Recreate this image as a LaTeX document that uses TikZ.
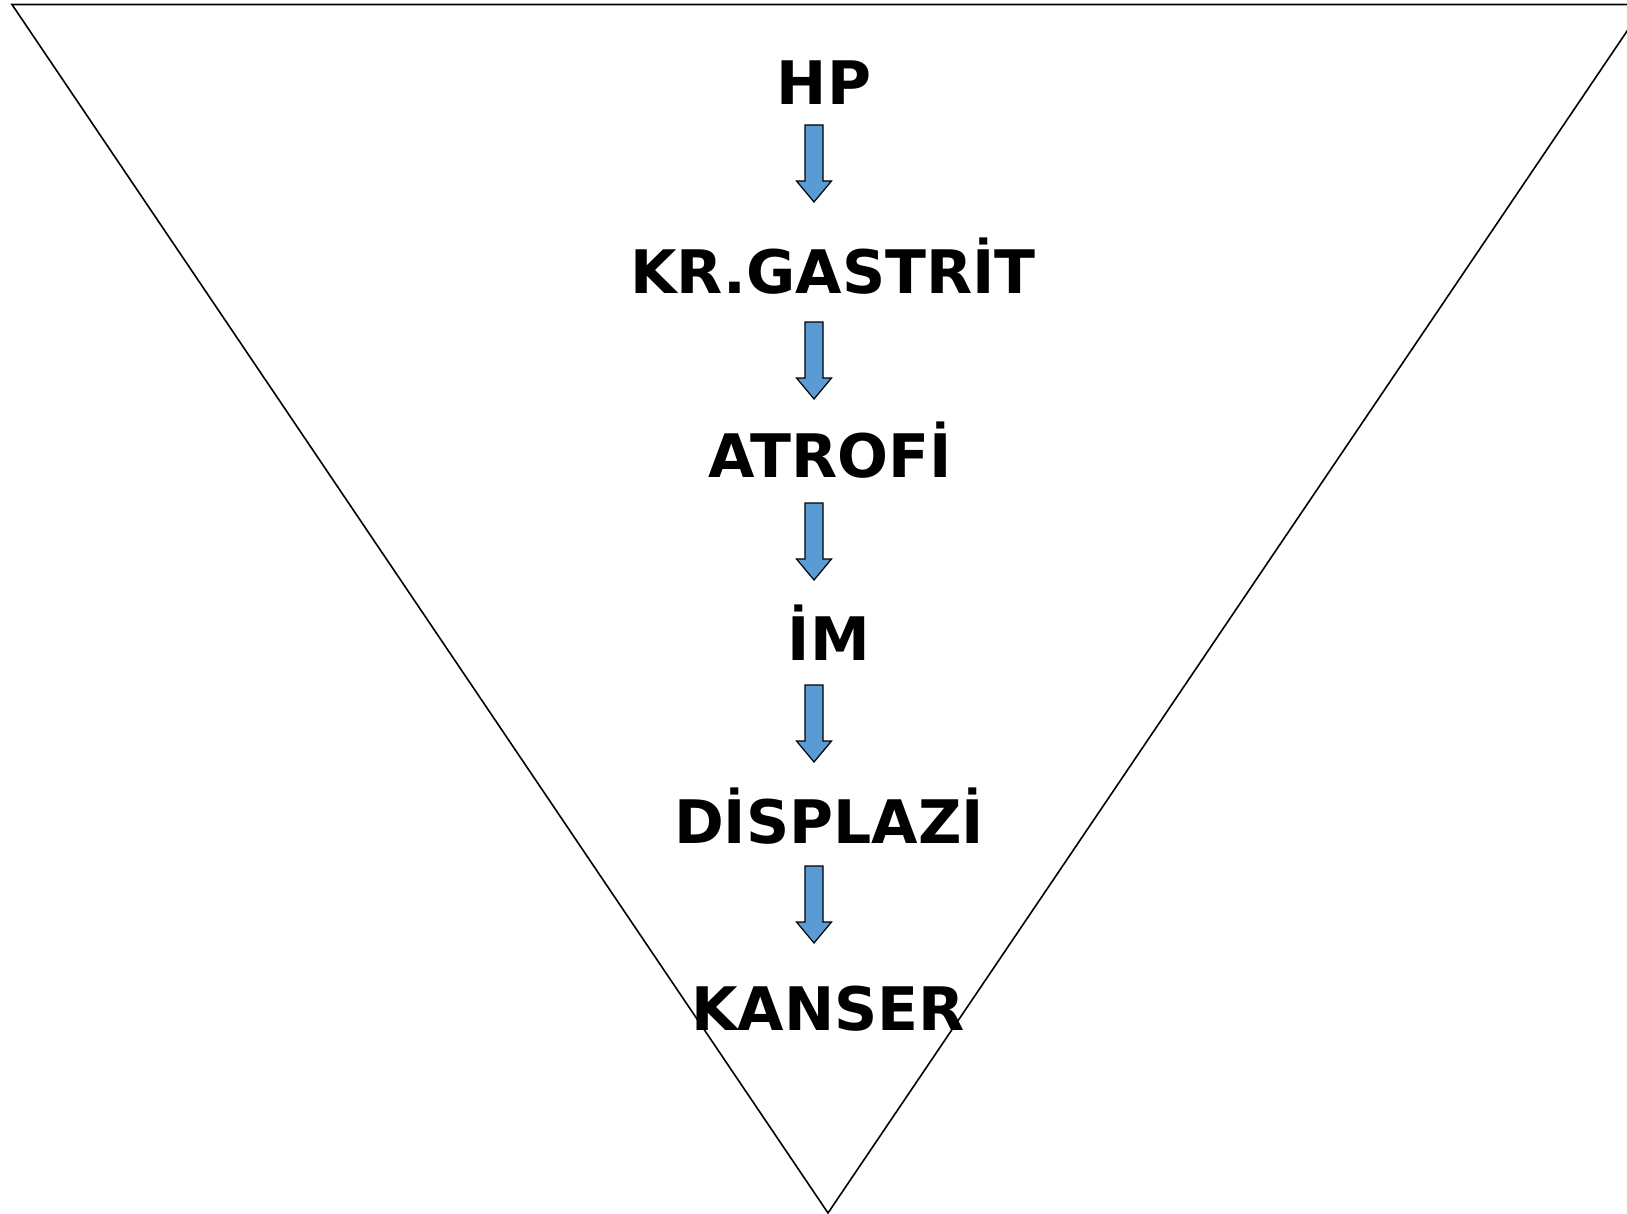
\documentclass[tikz,border=0pt]{standalone}
\usepackage{fontspec}
\newfontfamily\lblfont{DejaVu Sans}
\definecolor{arrowblue}{RGB}{91,155,213}
\tikzset{
  lbl/.style={font=\lblfont\bfseries\fontsize{30}{30}\selectfont, anchor=base, inner sep=0pt, text=black},
  pics/blockarrow/.style={code={
    \draw[fill=arrowblue, draw=black, line width=0.6pt, line join=miter]
      (-9,0) -- (9,0) -- (9,56) -- (17.5,56) -- (0,77) -- (-17.5,56) -- (-9,56) -- cycle;
  }}
}
\begin{document}
\begin{tikzpicture}[x=0.5pt, y=-0.5pt]
\useasboundingbox (0,0) rectangle (1627,1214);
\begin{scope}
\clip (0,0) rectangle (1627,1214);
\draw[line width=0.8pt, line join=miter] (12,4.5) -- (1645,4.5) -- (828,1213) -- cycle;
\end{scope}
\node[lbl] (hp) at (824,105) {HP};
\node[lbl] (gastrit) at (833,293) {KR.GASTRİT};
\node[lbl] (atrofi) at (830,477) {ATROFİ};
\node[lbl] (im) at (829,660) {İM};
\node[lbl] (displazi) at (829,843) {DİSPLAZİ};
\node[lbl] (kanser) at (828,1030) {KANSER};
\pic at (814,125) {blockarrow};
\pic at (814,322) {blockarrow};
\pic at (814,503) {blockarrow};
\pic at (814,685) {blockarrow};
\pic at (814,866) {blockarrow};
\end{tikzpicture}
\end{document}
